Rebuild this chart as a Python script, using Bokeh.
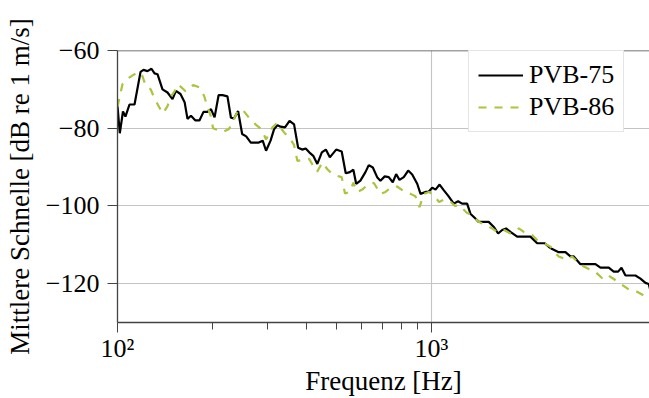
from bokeh.plotting import figure
from bokeh.models import FixedTicker, Legend, LegendItem, Span, Range1d
from bokeh.embed import file_html
from bokeh.resources import INLINE

# ---- data ----
freq_75 = [100, 101.7, 104.1, 106.0, 109.2, 113.3, 118.4, 121.0, 124.6, 128.3,
           131.2, 134.1, 139.1, 144.3, 149.7, 153.5, 158.7, 163.6, 167.1, 171.4,
           177.1, 182.4, 187.9, 193.5, 198.5, 203.8, 209.9, 216.1, 224.0, 229.8,
           235.0, 242.2, 249.5, 257.0, 265.8, 281.8, 290.1, 297.3, 307.3, 315.2,
           323.3, 330.5, 341.6, 353.2, 365.1, 376.1, 387.5, 397.6, 408.1, 420.3,
           433.0, 447.6, 460.9, 474.6, 497.2, 517.8, 533.3, 549.6, 564.0, 575.7,
           593.9, 616.3, 631.5, 650.6, 671.5, 688.0, 709.9, 731.2, 753.0, 772.0,
           791.0, 816.4, 843.2, 868.4, 900.9, 923.0, 957.2, 981.0, 1005.7, 1030.6,
           1061.5, 1095.6, 1131.5, 1178, 1216, 1252, 1299, 1331, 1383, 1414,
           1522, 1580, 1631, 1680, 1729, 1785, 1875, 2067, 2171, 2296,
           2364, 2424, 2544, 2672, 2772, 2840, 2983, 3330, 3454, 3671,
           3808, 3933, 4030, 4150, 4465, 4632, 4805, 4923, 4990]
pvb_75 = [-74.3, -81.3, -75.7, -77.0, -73.9, -73.9, -65.5, -65.0, -65.3, -64.7,
          -65.9, -66.1, -70.0, -70.8, -72.5, -70.4, -71.2, -73.3, -77.6, -76.8,
          -78.0, -78.0, -75.8, -75.8, -75.1, -77.2, -71.5, -71.5, -71.8, -77.3,
          -77.5, -75.6, -81.5, -82.1, -83.7, -83.7, -83.2, -85.8, -83.2, -80.3,
          -79.2, -79.6, -79.8, -78.1, -79.0, -85.0, -85.5, -85.2, -86.2, -87.1,
          -89.2, -86.2, -85.5, -87.5, -85.5, -86.0, -91.6, -91.3, -90.7, -94.3,
          -93.5, -91.3, -89.5, -90.1, -92.6, -93.5, -92.4, -92.6, -93.9, -91.8,
          -93.3, -92.6, -90.9, -91.9, -94.3, -96.9, -96.4, -96.3, -95.3, -95.8,
          -94.5, -96.0, -97.4, -99.4, -98.8, -99.4, -99.4, -102.0, -103.3, -104.1,
          -104.1, -105.4, -107.1, -106.2, -105.8, -106.7, -107.9, -107.9, -109.6, -109.6,
          -110.5, -111.1, -111.9, -111.9, -113.0, -113.0, -115.0, -115.0, -115.9, -115.9,
          -116.9, -116.9, -115.9, -117.9, -117.9, -118.7, -119.8, -120.1, -122.0]

freq_86 = [100, 103.7, 108.9, 116.2, 120.1, 123.0, 127.6, 130.6, 135.8, 139.6,
           144.3, 147.5, 151.9, 156.1, 164.7, 174.2, 182.5, 188.8, 193.5, 198.1,
           201.5, 216.1, 226.5, 233.9, 242.2, 251.3, 262.3, 275.1, 287.8, 297.3,
           311.3, 322.6, 338.8, 356.1, 365.0, 374.0, 393.5, 407.7, 418.9, 432.5,
           449.3, 465.5, 484.0, 517.8, 530.5, 550.3, 564.0, 580.0, 602, 632,
           656, 688, 714, 750, 777, 816, 858, 889, 916, 946,
           982, 1019, 1057, 1096, 1152, 1189, 1225, 1299, 1348, 1414,
           1561, 1620, 1702, 1785, 1898, 1969, 2092, 2171, 2308, 2395,
           2484, 2544, 2705, 2806, 2910, 3058, 3330, 3500, 3632, 3808,
           4048, 4302, 4520, 4805, 4990]
pvb_86 = [-74.5, -68.7, -67.0, -65.5, -66.6, -69.1, -70.0, -72.0, -74.6, -76.2,
          -74.3, -72.0, -70.5, -68.7, -70.5, -68.9, -69.5, -71.7, -74.5, -76.8,
          -80.0, -81.0, -80.2, -78.0, -75.4, -75.4, -77.3, -79.0, -80.3, -82.9,
          -79.8, -78.6, -81.0, -83.0, -84.3, -88.4, -88.1, -87.9, -89.5, -91.2,
          -88.8, -90.5, -91.9, -92.6, -96.8, -96.4, -94.0, -96.4, -95.8, -94.3,
          -94.1, -96.9, -96.4, -95.0, -95.0, -96.2, -96.9, -97.5, -100.3, -96.9,
          -96.4, -97.3, -99.0, -98.4, -99.0, -100.0, -99.8, -101.8, -102.4, -104.1,
          -105.8, -106.7, -106.2, -107.1, -105.8, -106.7, -107.5, -108.8, -109.8, -110.5,
          -112.2, -113.0, -113.9, -113.0, -114.3, -115.6, -117.0, -118.6, -117.7, -118.8,
          -120.3, -121.8, -122.1, -123.3, -124.1]

x_major = [100, 1000]
x_minor = [200, 300, 400, 500, 600, 700, 800, 900]
x_labels = {100: "10²", 1000: "10³"}
y_major = [-120, -100, -80, -60]
y_labels = {-120: "−120", -100: "−100", -80: "−80", -60: "−60"}

FONT = "Liberation Serif"
FS = "26px"
FS_LABEL = "27px"

p = figure(width=649, height=398, x_axis_type="log",
           x_range=Range1d(100, 4950), y_range=Range1d(-130, -60),
           output_backend="svg", toolbar_location=None,
           min_border_left=117, min_border_right=0,
           min_border_top=50, min_border_bottom=75)
p.outline_line_color = None
p.background_fill_color = "white"
p.border_fill_color = "white"

r75 = p.line(freq_75, pvb_75, line_color="black", line_width=2.2)
r86 = p.line(freq_86, pvb_86, line_color="#aac43c", line_width=2.2,
             line_dash="8 8")

# x axis
p.xaxis.ticker = FixedTicker(ticks=x_major, minor_ticks=x_minor)
p.xgrid.ticker = FixedTicker(ticks=x_major)
p.xaxis.major_label_overrides = x_labels
p.xaxis.axis_label = "Frequenz [Hz]"
# y axis
p.yaxis.ticker = FixedTicker(ticks=y_major)
p.ygrid.ticker = FixedTicker(ticks=y_major)
p.yaxis.major_label_overrides = y_labels
p.yaxis.axis_label = "Mittlere Schnelle [dB re 1 m/s]"

for ax in (p.xaxis, p.yaxis):
    ax.axis_line_color = "#444444"
    ax.axis_line_width = 1.3
    ax.major_tick_line_color = "#444444"
    ax.minor_tick_line_color = "#444444"
    ax.major_tick_out = 10
    ax.major_tick_in = 0
    ax.minor_tick_out = 7
    ax.minor_tick_in = 0
    ax.major_label_text_font = FONT
    ax.major_label_text_font_size = FS
    ax.major_label_text_color = "black"
    ax.axis_label_text_font = FONT
    ax.axis_label_text_font_size = FS_LABEL
    ax.axis_label_text_font_style = "normal"
    ax.axis_label_text_color = "black"
p.xaxis.major_label_standoff = 1
p.xaxis.axis_label_standoff = 0
p.yaxis.major_label_standoff = 8
p.yaxis.axis_label_standoff = 8

for g in (p.xgrid, p.ygrid):
    g.grid_line_color = "#c4c4c4"
    g.grid_line_width = 1.1

p.add_layout(Span(location=-60, dimension="width", line_color="#444444",
                  line_width=1.3))

legend = Legend(items=[LegendItem(label="PVB-75", renderers=[r75]),
                       LegendItem(label="PVB-86", renderers=[r86])],
                location=(351, 190))
legend.label_text_font = FONT
legend.label_text_font_size = FS
legend.label_text_color = "black"
legend.glyph_width = 45
legend.glyph_height = 28
legend.label_height = 28
legend.label_standoff = 6
legend.spacing = 2
legend.padding = 9
legend.margin = 0
legend.border_line_color = "#cccccc"
legend.border_line_width = 1
legend.background_fill_alpha = 1.0
p.add_layout(legend)

open("out.html", "w").write(file_html(p, INLINE))
